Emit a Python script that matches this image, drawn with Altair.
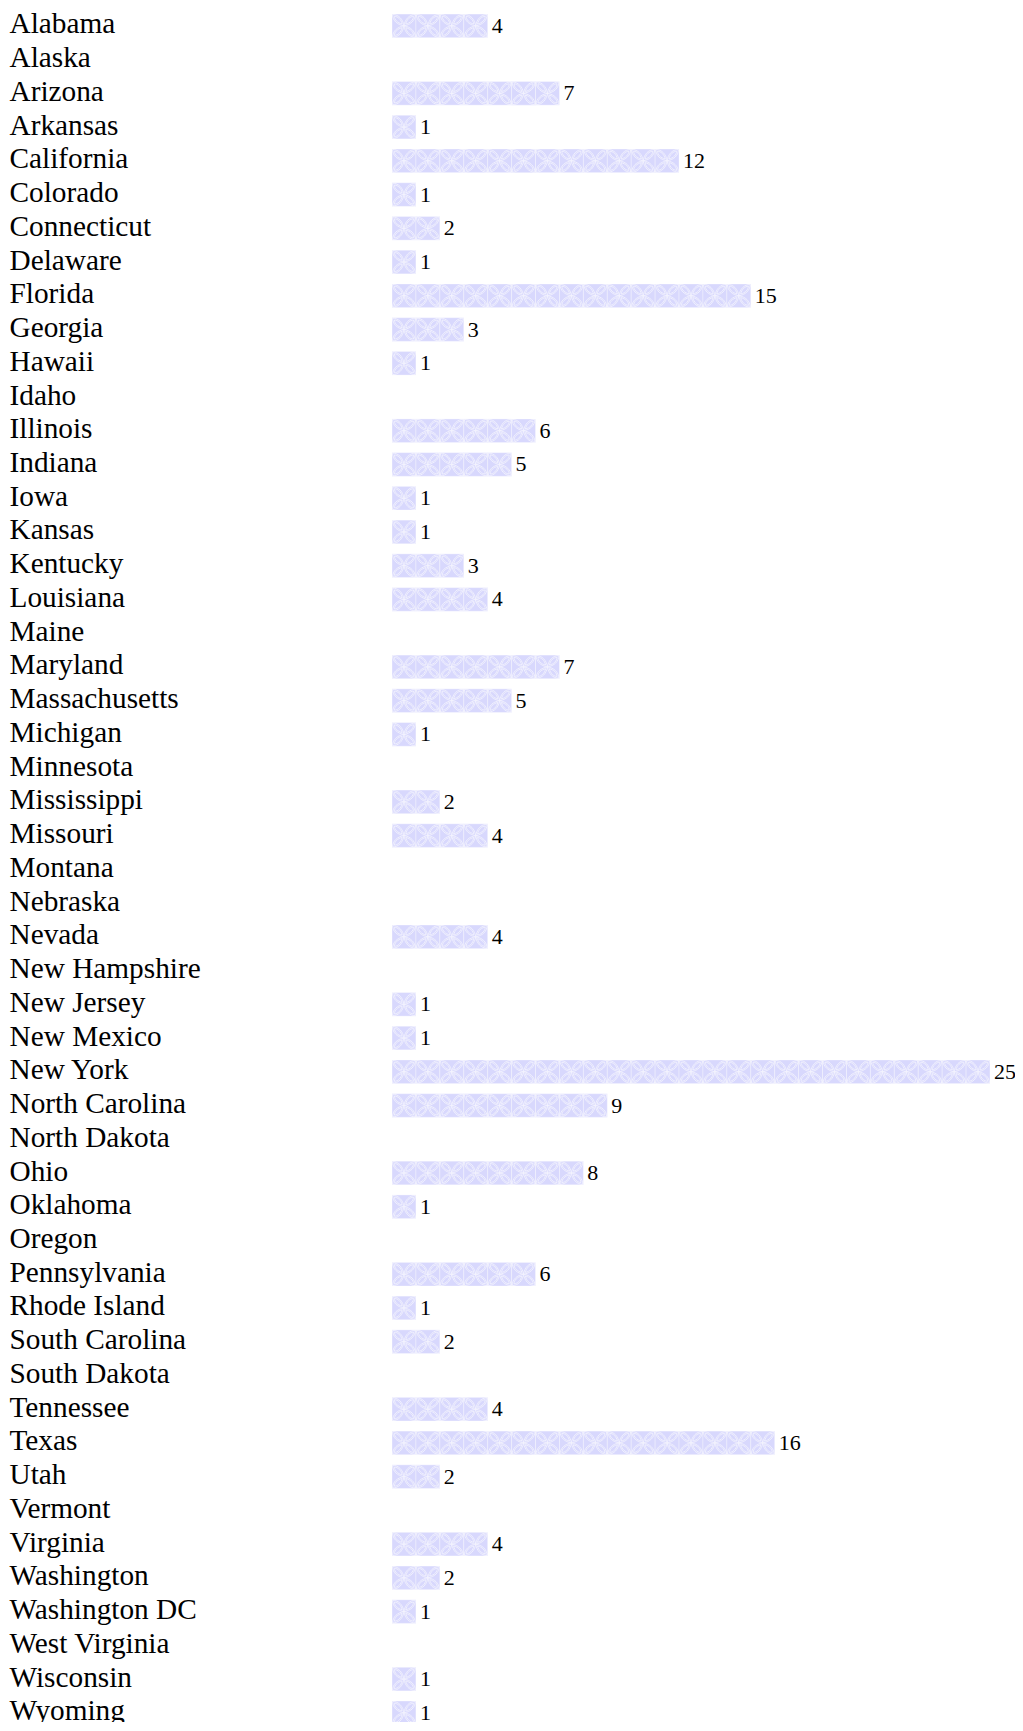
import altair as alt
import pandas as pd

states = ["Alabama", "Alaska", "Arizona", "Arkansas", "California", "Colorado",
          "Connecticut", "Delaware", "Florida", "Georgia", "Hawaii", "Idaho",
          "Illinois", "Indiana", "Iowa", "Kansas", "Kentucky", "Louisiana", "Maine",
          "Maryland", "Massachusetts", "Michigan", "Minnesota", "Mississippi",
          "Missouri", "Montana", "Nebraska", "Nevada", "New Hampshire", "New Jersey",
          "New Mexico", "New York", "North Carolina", "North Dakota", "Ohio",
          "Oklahoma", "Oregon", "Pennsylvania", "Rhode Island", "South Carolina",
          "South Dakota", "Tennessee", "Texas", "Utah", "Vermont", "Virginia",
          "Washington", "Washington DC", "West Virginia", "Wisconsin", "Wyoming"]
counts = [4, 0, 7, 1, 12, 1,
          2, 1, 15, 3, 1, 0,
          6, 5, 1, 1, 3, 4, 0,
          7, 5, 1, 0, 2,
          4, 0, 0, 4, 0, 1,
          1, 25, 9, 0, 8,
          1, 0, 6, 1, 2,
          0, 4, 16, 2, 0, 4,
          2, 1, 0, 1, 1]

df = pd.DataFrame({"state": states, "v": counts})

# one tile per unit of each bar (built from the counts)
tile_rows = []
for s, v in zip(states, counts):
    for i in range(v):
        tile_rows.append({"state": s, "t0": i, "t1": i + 1, "tc": i + 0.5})
tiles = pd.DataFrame(tile_rows)

petal = (
    "M0,0 C0.55,0.08 0.95,0.45 0.95,0.95 C0.45,0.95 0.08,0.55 0,0 Z "
    "M0,0 C-0.55,0.08 -0.95,0.45 -0.95,0.95 C-0.45,0.95 -0.08,0.55 0,0 Z "
    "M0,0 C0.55,-0.08 0.95,-0.45 0.95,-0.95 C0.45,-0.95 0.08,-0.55 0,0 Z "
    "M0,0 C-0.55,-0.08 -0.95,-0.45 -0.95,-0.95 C-0.45,-0.95 -0.08,-0.55 0,0 Z "
    "M0.15,0.15 C0.55,0.25 0.78,0.5 0.8,0.8 C0.5,0.78 0.25,0.55 0.15,0.15 Z "
    "M-0.15,0.15 C-0.55,0.25 -0.78,0.5 -0.8,0.8 C-0.5,0.78 -0.25,0.55 -0.15,0.15 Z "
    "M0.15,-0.15 C0.55,-0.25 0.78,-0.5 0.8,-0.8 C0.5,-0.78 0.25,-0.55 0.15,-0.15 Z "
    "M-0.15,-0.15 C-0.55,-0.25 -0.78,-0.5 -0.8,-0.8 C-0.5,-0.78 -0.25,-0.55 -0.15,-0.15 Z"
)

yscale = alt.Scale(domain=states, paddingInner=0.3, paddingOuter=0.15,
                   range=[0, 1720.7])
yenc = alt.Y(
    "state:N",
    sort=states,
    scale=yscale,
    axis=alt.Axis(
        title=None, domain=False, ticks=False, grid=False,
        labelAlign="left", labelPadding=383, labelFont="Liberation Serif",
        labelFontSize=29.3, labelColor="#000000", labelBaseline="middle",
        labelOffset=-1.5, labelLimit=0,
    ),
)
xscale = alt.Scale(domain=[0, 25], nice=False, zero=True)

tile_layer = alt.Chart(tiles).mark_bar(
    color="#d8d8fd", stroke="#ffffff", strokeOpacity=0.45, strokeWidth=0.7
).encode(
    x=alt.X("t0:Q", scale=xscale, axis=None),
    x2="t1:Q",
    y=yenc,
)

petal_layer = alt.Chart(tiles).mark_point(
    shape=petal, filled=False, stroke="#ffffff", strokeOpacity=0.85,
    strokeWidth=1.0, size=572,
).encode(
    x=alt.X("tc:Q", scale=xscale, axis=None),
    y=alt.Y("state:N", sort=states),
)

label_layer = alt.Chart(df).transform_filter(
    alt.datum.v > 0
).mark_text(
    align="left", baseline="middle", dx=4, font="Liberation Serif",
    fontSize=22, color="#000000",
).encode(
    x=alt.X("v:Q", scale=xscale, axis=None),
    y=alt.Y("state:N", sort=states),
    text="v:Q",
)

chart = alt.layer(tile_layer, petal_layer, label_layer).properties(
    width=598,
    height=1713,
    autosize=alt.AutoSizeParams(type="none"),
    padding={"left": 384, "top": 1, "right": 25, "bottom": 0},
    background="#ffffff",
).configure_view(stroke=None)

chart.save("out.html", embed_options={"renderer": "svg", "actions": False})
